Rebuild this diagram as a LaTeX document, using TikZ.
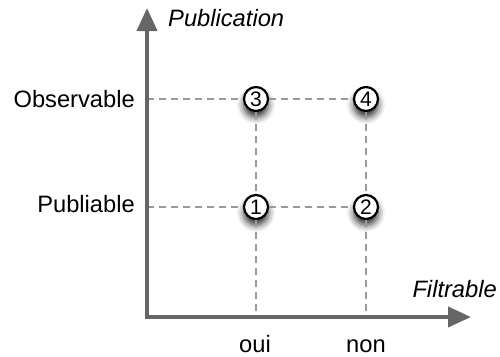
\documentclass[tikz,border=0pt]{standalone}
\usepackage{fontspec}
\setmainfont{Liberation Sans}
\usetikzlibrary{positioning,arrows.meta,shadows.blur}

\definecolor{axisgray}{HTML}{666666}
\definecolor{gridgray}{HTML}{9A9A9A}

\begin{document}
\begin{tikzpicture}[
            x=1pt, y=-1pt,
            font=\fontsize{23.7}{28}\selectfont,
            axis/.style={draw=axisgray, line width=4pt, line join=miter,
                {Triangle[length=23pt, width=20pt]}-{Triangle[length=23pt, width=20pt]}},
            gridline/.style={draw=gridgray, line width=1.5pt, dash pattern=on 7pt off 5pt},
            point/.style={circle, draw=black, line width=2.2pt, fill=white, minimum size=24pt,
                inner sep=0pt, font=\fontsize{21}{21}\selectfont,
                blur shadow={shadow xshift=0pt, shadow yshift=-6pt, shadow blur radius=7pt,
                shadow opacity=85}},
            tag/.style={inner sep=0pt},
            axistitle/.style={tag, font=\fontsize{23.7}{28}\selectfont\itshape}
        ]

            \useasboundingbox (0,0) rectangle (500,356);

            \coordinate (origin) at (147,317);
            \coordinate (ytip) at (147,8);
            \coordinate (xtip) at (471,317);

            \node[point] (p3) at (256,99) {3};
            \node[point] (p4) at (366,99) {4};
            \node[point] (p1) at (256,207) {1};
            \node[point] (p2) at (366,207) {2};

            % grid lines
            \draw[gridline] (origin |- p3) -- (p3);
            \draw[gridline] (p3) -- (p4);
            \draw[gridline] (origin |- p1) -- (p1);
            \draw[gridline] (p1) -- (p2);
            \draw[gridline] (p3) -- (p1);
            \draw[gridline] (p4) -- (p2);
            \draw[gridline] (p1) -- (p1 |- origin);
            \draw[gridline] (p2) -- (p2 |- origin);

            \draw[axis] (ytip) -- (origin) -- (xtip);

            \node[tag, anchor=base east] (observable) at (135,107) {Observable};
            \node[tag, anchor=base east] (publiable) at (135,212) {Publiable};
            \node[axistitle, anchor=base west] (publication) at (168,27) {Publication};
            \node[axistitle, anchor=base east] (filtrable) at (497,297) {Filtrable};
            \node[tag, anchor=base] (oui) at (255,352) {oui};
            \node[tag, anchor=base] (non) at (366,352) {non};

        \end{tikzpicture}
\end{document}
